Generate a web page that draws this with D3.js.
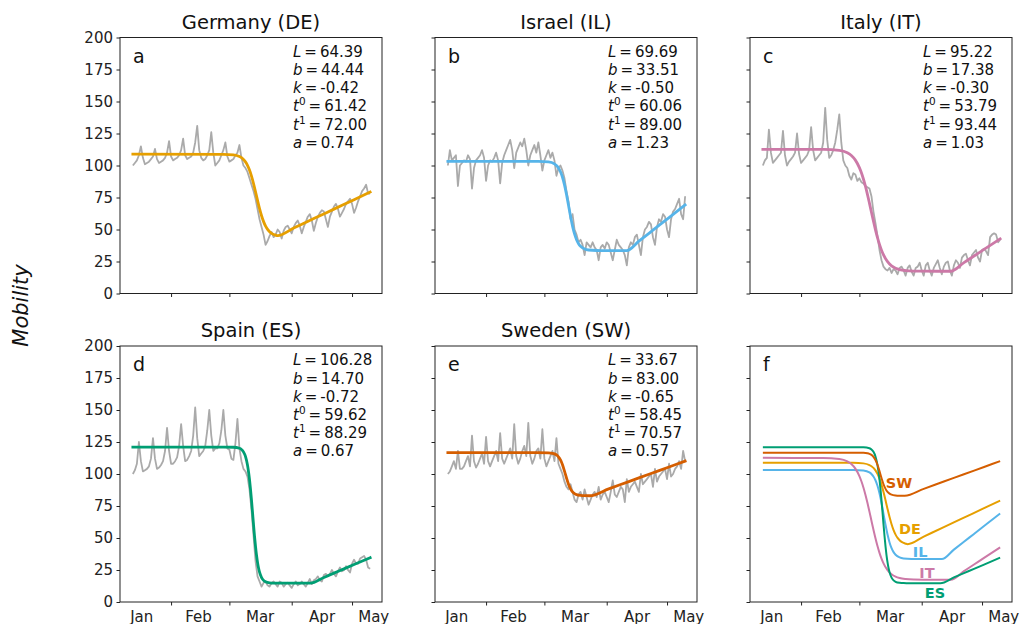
<!DOCTYPE html>
<html><head><meta charset="utf-8">
<script src="https://cdn.jsdelivr.net/npm/d3@7"></script>
<style>body{margin:0;background:#fff} svg{display:block;font-family:"DejaVu Sans",sans-serif}</style>
</head><body><svg id="c" width="1021" height="624"></svg>
<script>
// ---------- data ----------
const titles = ["Germany (DE)", "Israel (IL)", "Italy (IT)", "Spain (ES)", "Sweden (SW)"];
const codes = ["DE", "IL", "IT", "ES", "SW"];
const letters = ["a", "b", "c", "d", "e", "f"];
const colors = ["#E69F00", "#56B4E9", "#CC79A7", "#009E73", "#D55E00"];

const monthTickDays = [19, 48, 79, 109];
const monthLabels = ["Jan", "Feb", "Mar", "Apr", "May"];
const monthLabelDays = [4.4, 32.6, 63.3, 94.1, 119.8];
const yTicks = [0, 25, 50, 75, 100, 125, 150, 175, 200];

const mobilityDE = [100,102,104,108,115,106,101, 102,103,105,107,113,105,102, 103,104,106,110,119,107,104,
  105,106,108,112,121,108,105, 106,107,110,118,131,112,106, 104,105,108,112,126,110,100,
  102,104,108,112,118,107,103, 104,105,108,110,116,106,100, 98,95,90,85,80,74,66,
  58,52,46,38,41,45,48, 44,46,50,48,43,49,52, 53,50,47,52,55,57,53, 47,52,56,60,62,57,49,
  55,60,63,65,64,58,52, 60,64,68,70,66,60,63, 66,70,72,74,70,63,67, 72,76,80,82,85,78,78];
const mobilityIL = [100,112,104,106,108,84,100, 102,104,103,108,105,82,98, 104,106,108,112,106,88,100,
  104,103,106,110,104,86,102, 108,112,116,120,112,98,110, 114,118,115,121,112,100,108,
  112,116,110,118,108,96,104, 108,112,106,110,104,92,98, 100,96,90,80,72,58,62,
  50,46,40,42,38,30,40, 38,36,40,36,34,26,36, 38,35,40,38,32,26,34, 42,38,36,34,30,22,36,
  40,38,44,46,38,30,44, 50,52,56,54,44,38,52, 58,56,62,60,50,44,58, 64,66,70,74,62,58,76];
const mobilityIT = [100,104,106,128,110,102,104, 106,108,110,127,108,100,103, 105,107,110,125,109,102,104,
  106,108,112,130,112,104,106, 108,110,118,145,120,106,108, 112,118,128,140,118,104,100,
  98,92,89,94,93,88,90, 87,86,84,83,82,76,64, 55,45,34,26,21,19,18,
  20,16,19,18,15,20,21, 18,14,20,22,17,14,20, 21,24,18,14,22,24,18, 14,20,23,26,20,15,21,
  24,25,18,14,22,26,24, 20,28,30,31,26,22,30, 32,34,28,25,34,35,33, 30,44,46,47,46,40,42];
const mobilityES = [100,103,108,125,110,102,103, 104,106,112,128,112,104,105, 107,110,118,136,118,108,108,
  110,113,122,139,122,110,111, 114,118,130,152,128,114,116, 118,122,134,150,130,118,120,
  120,124,134,150,130,120,119, 112,111,124,143,120,110,104, 102,98,88,72,52,32,20,
  16,12,15,16,13,12,15, 16,14,12,16,15,12,14, 15,13,11,14,16,13,14, 16,14,12,15,18,14,17,
  18,20,17,16,21,22,20, 22,25,22,20,24,27,24, 25,28,25,23,30,33,30, 30,34,35,36,33,27,26];
const mobilitySW = [100,102,106,110,104,118,104, 104,106,110,114,106,130,110, 105,108,112,116,108,129,110,
  106,110,114,118,110,132,112, 108,112,116,120,112,139,114, 108,112,118,122,114,140,114,
  108,112,118,120,112,135,112, 106,110,114,118,110,128,108, 104,100,94,90,88,92,86,
  80,78,84,86,80,88,82, 76,80,84,86,82,90,80, 84,86,82,78,86,95,84, 82,86,90,88,78,96,86,
  90,92,94,90,86,100,92, 94,96,98,100,90,104,94, 98,100,102,104,96,108,98, 100,104,106,110,104,118,110];

const fitDE = [[0,108.83],[45,108.72],[50,108.30],[53,107.01],[54,106.10],[55,104.76],[56,102.83],[57,100.13],
  [58,96.46],[59,91.71],[60,85.95],[61,79.47],[62,72.73],[63,66.33],[64,60.72],[65,56.15],[66,52.65],[67,50.08],
  [68,48.26],[69,47.00],[70,46.15],[71,45.57],[72,45.19],[80,51.11],[90,58.51],[100,65.91],[110,73.31],[118,79.23]];
const fitIL = [[0,103.2],[45,103.16],[50,102.75],[53,101.22],[54,99.99],[55,98.06],[56,95.11],[57,90.80],[58,84.87],
  [59,77.38],[60,68.88],[61,60.31],[62,52.67],[63,46.54],[64,42.04],[65,38.95],[66,36.91],[68,34.80],[70,33.99],
  [74,33.58],[80,33.52],[89,33.51],[95,40.89],[100,47.04],[105,53.19],[110,59.34],[118,69.18]];
const fitIT = [[0,112.6],[30,112.52],[38,111.77],[42,109.91],[44,107.81],[46,104.21],[48,98.35],[49,94.31],[50,89.47],
  [51,83.83],[52,77.47],[53,70.60],[54,63.49],[55,56.44],[56,49.76],[57,43.68],[58,38.37],[59,33.87],[60,30.17],
  [62,24.85],[64,21.63],[66,19.76],[68,18.70],[71,17.92],[75,17.54],[80,17.43],[93.44,17.38],[100,24.14],
  [105,29.29],[110,34.44],[118,42.68]];
const fitES = [[0,120.98],[45,120.98],[50,120.88],[53,120.08],[54,119.15],[55,117.29],[56,113.72],[57,106.98],
  [57.5,102.0],[58,95.73],[58.5,88.17],[59,79.50],[59.5,70.13],[60,60.61],[60.5,51.55],[61,43.42],[61.5,36.51],
  [62,30.93],[62.5,26.57],[63,23.27],[64,19.05],[65,16.87],[66,15.76],[68,14.95],[70,14.76],[75,14.70],
  [88.29,14.70],[95,19.20],[100,22.55],[105,25.90],[110,29.25],[118,34.61]];
const fitSW = [[0,116.67],[45,116.67],[50,116.53],[52,116.17],[53,115.72],[54,114.90],[55,113.43],[56,110.97],
  [57,107.23],[58,102.28],[59,96.86],[60,92.00],[61,88.39],[62,86.05],[63,84.66],[64,83.89],[66,83.25],[68,83.07],
  [70.57,83.01],[80,88.39],[90,94.09],[100,99.79],[110,105.49],[118,110.05]];

const paramsDE = ["64.39", "44.44", "-0.42", "61.42", "72.00", "0.74"];
const paramsIL = ["69.69", "33.51", "-0.50", "60.06", "89.00", "1.23"];
const paramsIT = ["95.22", "17.38", "-0.30", "53.79", "93.44", "1.03"];
const paramsES = ["106.28", "14.70", "-0.72", "59.62", "88.29", "0.67"];
const paramsSW = ["33.67", "83.00", "-0.65", "58.45", "70.57", "0.57"];
const paramNames = [["L",""],["b",""],["k",""],["t","0"],["t","1"],["a",""]];

// panel f label positions (day, value)
const labelPosF = [[67.7,92.6],[73.2,56.8],[78.2,38.9],[81.6,22.6],[85.6,7.0]];
const labelOrderF = ["SW","DE","IL","IT","ES"];

const mobility = [mobilityDE, mobilityIL, mobilityIT, mobilityES, mobilitySW];
const fits = [fitDE, fitIL, fitIT, fitES, fitSW];
const params = [paramsDE, paramsIL, paramsIT, paramsES, paramsSW];

// ---------- layout ----------
const svg = d3.select("#c");
const W = 262, H = 256;
const lefts = [120, 435, 750], tops = [37.5, 346];
const x = d3.scaleLinear().domain([-6.4, 123.9]).range([0, W]);
const y = d3.scaleLinear().domain([0, 200]).range([H, 0]);

const grayLine = d3.line().x((d, i) => x(i)).y(d => y(d));
const fitLine = d3.line().x(d => x(d[0])).y(d => y(d[1])).curve(d3.curveMonotoneX);

for (let p = 0; p < 6; p++) {
  const col = p % 3, row = Math.floor(p / 3);
  const g = svg.append("g").attr("transform", `translate(${lefts[col]},${tops[row]})`);

  // axes
  const ya = d3.axisLeft(y).tickValues(yTicks).tickSize(3.5).tickPadding(3.5)
    .tickFormat(col === 0 ? d3.format("d") : () => "");
  const yg = g.append("g").call(ya);
  const xa = d3.axisBottom(x).tickValues(monthTickDays).tickSize(3.5).tickFormat(() => "");
  const xg = g.append("g").attr("transform", `translate(0,${H})`).call(xa);
  [yg, xg].forEach(a => {
    a.select(".domain").remove();
    a.selectAll("line").attr("stroke", "#222").attr("stroke-width", 1);
    a.selectAll("text").attr("fill", "#222").style("font-size", "15px").style("font-family", "DejaVu Sans");
  });
  if (row === 1) {
    g.selectAll(".mlab").data(monthLabels).enter().append("text")
      .attr("x", (d, i) => x(monthLabelDays[i])).attr("y", H + 19.5)
      .attr("text-anchor", "middle").attr("fill", "#222").style("font-size", "15px").text(d => d);
  }

  if (p < 5) {
    g.append("path").datum(mobility[p]).attr("d", grayLine)
      .attr("fill", "none").attr("stroke", "#aaaaaa").attr("stroke-width", 1.8).attr("stroke-linejoin", "round");
    g.append("path").datum(fits[p]).attr("d", fitLine)
      .attr("fill", "none").attr("stroke", colors[p]).attr("stroke-width", 2.8).attr("stroke-linecap", "square");
    g.append("text").attr("x", W / 2).attr("y", -9).attr("text-anchor", "middle")
      .attr("fill", "#111").style("font-size", "19.5px").text(titles[p]);
    // parameters
    params[p].forEach((v, i) => {
      const t = g.append("text").attr("x", 173).attr("y", 19.3 + 18.2 * i)
        .attr("fill", "#111").style("font-size", "15px");
      t.append("tspan").style("font-style", "italic").text(paramNames[i][0]);
      if (paramNames[i][1]) {
        t.append("tspan").attr("dy", -6).style("font-size", "10.5px").text(paramNames[i][1]);
        t.append("tspan").attr("dy", 6).text("\u2009=\u2009" + v);
      } else {
        t.append("tspan").text("\u2009=\u2009" + v);
      }
    });
  } else {
    const order = [0, 1, 2, 3, 4];
    order.forEach(k => {
      g.append("path").datum(fits[k]).attr("d", fitLine)
        .attr("fill", "none").attr("stroke", colors[k]).attr("stroke-width", 2);
    });
    labelOrderF.forEach((c, i) => {
      const k = codes.indexOf(c);
      g.append("text").attr("x", x(labelPosF[i][0])).attr("y", y(labelPosF[i][1]))
        .attr("text-anchor", "middle").attr("dominant-baseline", "central")
        .attr("fill", colors[k]).style("font-size", "14.5px").style("font-weight", "bold").text(c);
    });
  }

  g.append("text").attr("x", 13).attr("y", 25).attr("fill", "#111")
    .style("font-size", "19px").text(letters[p]);

  g.append("rect").attr("width", W).attr("height", H)
    .attr("fill", "none").attr("stroke", "#222").attr("stroke-width", 1);
}

svg.append("text").attr("transform", "translate(28,305.5) rotate(-90)")
  .attr("text-anchor", "middle").style("font-style", "italic").style("font-size", "21px")
  .attr("fill", "#111").text("Mobility");
</script></body></html>
